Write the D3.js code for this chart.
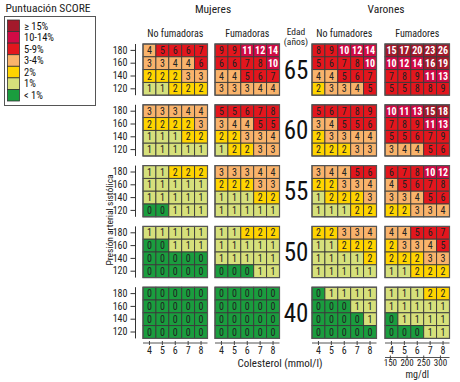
<!DOCTYPE html>
<html><head><meta charset="utf-8">
<script src="https://cdn.jsdelivr.net/npm/d3@7/dist/d3.min.js"></script>
<style>
body{margin:0;background:#fff;}
svg{font-family:"Liberation Sans Narrow","Arial Narrow","Roboto Condensed","Liberation Sans",sans-serif;}
</style></head><body>
<svg id="c" width="460" height="382"></svg>
<script>
const ages = [65, 60, 55, 50, 40];
const sbp = [180, 160, 140, 120];
const chol = [4, 5, 6, 7, 8];
const mgdl = [150, 200, 250, 300];
const legendLabels = ["≥ 15%", "10-14%", "5-9%", "3-4%", "2%", "1%", "< 1%"];
const legendColors = ["#a3192b", "#d10a45", "#e3161d", "#f9b36b", "#ffd400", "#d6e07b", "#1a9d3e"];
const groupLabels = ["No fumadoras", "Fumadoras", "No fumadores", "Fumadores"];

// values: [age][sbp row][cholesterol col]
const womenNonSmokers = [
  [[4,5,6,6,7],[3,3,4,4,6],[2,2,2,3,3],[1,1,2,2,2]],
  [[3,3,3,4,4],[2,2,2,2,3],[1,1,1,2,2],[1,1,1,1,1]],
  [[1,1,2,2,2],[1,1,1,1,1],[1,1,1,1,1],[0,0,1,1,1]],
  [[1,1,1,1,1],[0,0,1,1,1],[0,0,0,0,0],[0,0,0,0,0]],
  [[0,0,0,0,0],[0,0,0,0,0],[0,0,0,0,0],[0,0,0,0,0]]
];
const womenSmokers = [
  [[9,9,11,12,14],[6,6,7,8,10],[4,4,5,6,7],[3,3,3,4,4]],
  [[5,5,6,7,8],[3,4,4,5,5],[2,2,3,3,4],[1,2,2,3,3]],
  [[3,3,3,4,4],[2,2,2,3,3],[1,1,1,2,2],[1,1,1,1,1]],
  [[1,1,2,2,2],[1,1,1,1,1],[1,1,1,1,1],[0,0,0,1,1]],
  [[0,0,0,0,0],[0,0,0,0,0],[0,0,0,0,0],[0,0,0,0,0]]
];
const menNonSmokers = [
  [[8,9,10,12,14],[5,6,7,8,10],[4,4,5,6,7],[2,3,3,4,5]],
  [[5,6,7,8,9],[3,4,5,5,6],[2,3,3,4,4],[2,2,2,3,3]],
  [[3,4,4,5,6],[2,2,3,3,4],[1,2,2,2,3],[1,1,1,2,2]],
  [[2,2,3,3,4],[1,1,2,2,2],[1,1,1,1,2],[1,1,1,1,1]],
  [[0,1,1,1,1],[0,0,0,1,1],[0,0,0,0,1],[0,0,0,0,0]]
];
const menSmokers = [
  [[15,17,20,23,26],[10,12,14,16,19],[7,8,9,11,13],[5,5,8,8,9]],
  [[10,11,13,15,18],[7,8,9,11,13],[5,5,6,7,9],[3,4,4,5,6]],
  [[6,7,8,10,12],[4,5,6,7,8],[3,3,4,5,6],[2,2,3,3,4]],
  [[4,4,5,6,7],[2,3,3,4,5],[2,2,2,3,3],[1,1,2,2,2]],
  [[1,1,1,2,2],[1,1,1,1,1],[0,1,1,1,1],[0,0,0,1,1]]
];
const groups = [womenNonSmokers, womenSmokers, menNonSmokers, menSmokers];

const svg = d3.select("#c");
const color = d3.scaleThreshold().domain([1,2,3,5,10,15])
  .range(legendColors.slice().reverse());

const panelLeft = [143, 215, 312, 385];
const cellW = 12.9, cellH = 12.8;
const panelW = cellW * 5, panelH = cellH * 4;
const rowTop = d3.scaleBand().domain(ages).range([44, 44 + 5 * 60.8]).paddingInner(0);

// Legend
svg.append("text").attr("x", 48).attr("y", 12).attr("text-anchor", "middle")
  .attr("font-size", 11.5).attr("fill", "#222").text("Puntuación SCORE");
svg.append("rect").attr("x", 4.5).attr("y", 16.5).attr("width", 91).attr("height", 89)
  .attr("fill", "#fff").attr("stroke", "#555").attr("stroke-width", 1);
const ly = d3.scaleBand().domain(legendLabels).range([20, 101]);
legendLabels.forEach((l, i) => {
  svg.append("rect").attr("x", 7.5).attr("y", ly(l)).attr("width", 12).attr("height", ly.bandwidth())
    .attr("fill", legendColors[i]).attr("stroke", "#333").attr("stroke-width", 0.8);
  svg.append("text").attr("x", 24).attr("y", ly(l) + ly.bandwidth() / 2 + 3.8)
    .attr("font-size", 10.5).attr("fill", "#111").text(l);
});

// Headers
svg.append("text").attr("x", 213).attr("y", 13).attr("text-anchor", "middle").attr("font-size", 11.5).attr("fill", "#222").text("Mujeres");
svg.append("text").attr("x", 386).attr("y", 13).attr("text-anchor", "middle").attr("font-size", 11.5).attr("fill", "#222").text("Varones");
groupLabels.forEach((g, gi) => {
  svg.append("text").attr("x", panelLeft[gi] + panelW / 2).attr("y", 37).attr("text-anchor", "middle")
    .attr("font-size", 10).attr("fill", "#222").text(g);
});
svg.append("text").attr("x", 296).attr("y", 35).attr("text-anchor", "middle").attr("font-size", 9.5).attr("fill", "#222").text("Edad");
svg.append("text").attr("x", 296).attr("y", 44.5).attr("text-anchor", "middle").attr("font-size", 9.5).attr("fill", "#222").text("(años)");

// Y axis title
svg.append("text").attr("transform", "translate(113,220) rotate(-90)").attr("text-anchor", "middle")
  .attr("font-size", 9.5).attr("fill", "#222").text("Presión arterial sistólica");

ages.forEach((age, ai) => {
  const top = rowTop(age);
  const y = d3.scaleBand().domain(sbp).range([top, top + panelH]);
  // y axis
  const ax = svg.append("g").attr("transform", "translate(135.5,0)")
    .call(d3.axisLeft(y).tickSize(5).tickPadding(3));
  ax.select(".domain").attr("d", `M0,${top}V${top + panelH}`).attr("stroke", "#333");
  ax.selectAll(".tick line").attr("stroke", "#333");
  ax.selectAll("text").attr("font-size", 10).attr("fill", "#222");
  ax.attr("font-family", null);

  // age label
  svg.append("text").attr("x", 296).attr("y", top + panelH / 2 + 9).attr("text-anchor", "middle")
    .attr("font-size", 25).attr("fill", "#111").text(age);

  groups.forEach((grp, gi) => {
    const x = d3.scaleBand().domain(chol).range([panelLeft[gi], panelLeft[gi] + panelW]);
    const g = svg.append("g");
    sbp.forEach((s, ri) => {
      chol.forEach((c, ci) => {
        const v = grp[ai][ri][ci];
        g.append("rect").attr("x", x(c)).attr("y", y(s)).attr("width", x.bandwidth()).attr("height", y.bandwidth())
          .attr("fill", color(v)).attr("stroke", "#3a3a3a").attr("stroke-width", 0.9);
        g.append("text").attr("x", x(c) + x.bandwidth() / 2).attr("y", y(s) + y.bandwidth() / 2 + 3.6)
          .attr("text-anchor", "middle").attr("font-size", 10)
          .attr("font-weight", v >= 10 ? "bold" : "normal")
          .attr("fill", v >= 10 ? "#fff" : "#222").text(v);
      });
    });
    g.append("rect").attr("x", panelLeft[gi]).attr("y", top).attr("width", panelW).attr("height", panelH)
      .attr("fill", "none").attr("stroke", "#555").attr("stroke-width", 1.2);

    if (ai === ages.length - 1) {
      const xa = svg.append("g").attr("transform", "translate(0,343)")
        .call(d3.axisBottom(x).tickSize(2).tickPadding(2));
      xa.select(".domain").attr("d", `M${panelLeft[gi]},0H${panelLeft[gi] + panelW}`).attr("stroke", "#555");
      xa.selectAll(".tick line").attr("y1", -2).attr("stroke", "#444");
      xa.selectAll("text").attr("font-size", 10).attr("fill", "#222");
      xa.attr("font-family", null);
      if (gi === 3) {
        const mm = d3.scaleLinear().domain([4, 8]).range([x(4) + x.bandwidth() / 2, x(8) + x.bandwidth() / 2]);
        const mg = d3.scaleLinear().domain([4 * 38.67, 8 * 38.67]).range(mm.range());
        const ma = svg.append("g").attr("transform", "translate(0,357.5)")
          .call(d3.axisBottom(mg).tickValues(mgdl).tickSize(2).tickPadding(0));
        ma.select(".domain").attr("d", `M${panelLeft[gi]},0H${panelLeft[gi] + panelW}`).attr("stroke", "#555");
        ma.selectAll(".tick line").attr("y1", -2).attr("stroke", "#444");
        ma.selectAll("text").attr("font-size", 9).attr("fill", "#222");
        ma.attr("font-family", null);
        svg.append("text").attr("x", panelLeft[gi] + panelW / 2).attr("y", 378).attr("text-anchor", "middle")
          .attr("font-size", 10).attr("fill", "#222").text("mg/dl");
      }
    }
  });
});

svg.append("text").attr("x", 280).attr("y", 367).attr("text-anchor", "middle")
  .attr("font-size", 11).attr("fill", "#222").text("Colesterol (mmol/l)");
</script>
</body></html>
